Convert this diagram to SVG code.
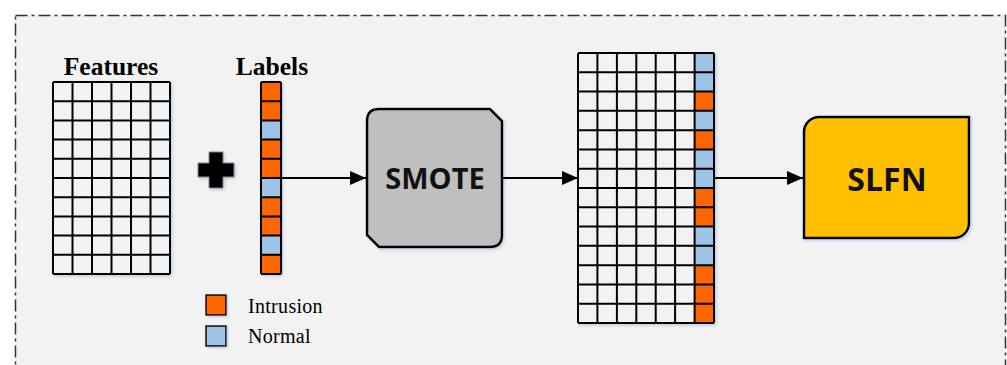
<svg xmlns="http://www.w3.org/2000/svg" width="1007" height="365" viewBox="0 0 1007 365">
  <style>
    .grid { fill: none; stroke: #000; stroke-width: 2; }
    .cell { fill: #f2f2f2; }
    .intr { fill: #ff6600; }
    .norm { fill: #9dc3e6; }
    .hdr { font-family: "Liberation Serif", serif; font-weight: bold; font-size: 25.5px; fill: #000; }
    .leg { font-family: "Liberation Serif", serif; font-size: 20px; fill: #000; letter-spacing: 0.3px; }
    .box-label { font-family: "Open Sans", "Liberation Sans", sans-serif; font-weight: bold; fill: #111; text-anchor: middle; }
    .conn { stroke: #000; stroke-width: 2; fill: none; marker-end: url(#arrow); }
  </style>
  <defs>
    <marker id="arrow" viewBox="0 0 16 14" refX="16" refY="7" markerWidth="16" markerHeight="14" markerUnits="userSpaceOnUse" orient="auto">
      <path d="M0 0 L16 7 L0 14 Z" fill="#000"/>
    </marker>
    <filter id="soft" x="-10%" y="-10%" width="125%" height="125%">
      <feDropShadow dx="1.5" dy="1.5" stdDeviation="1.5" flood-color="#9bb3d0" flood-opacity="0.6"/>
    </filter>
  </defs>

  <!-- panel -->
  <rect x="15.5" y="15.5" width="990" height="400" fill="#f2f2f2" stroke="#333" stroke-width="1.5" stroke-dasharray="12 4 3 4"/>

  <!-- feature matrix: 6 columns x 10 rows -->
  <g id="features">
    <text class="hdr" x="111" y="75" text-anchor="middle">Features</text>
    <g filter="url(#soft)">
      <rect class="cell" x="53" y="82" width="117" height="192"/>
      <path class="grid" d="M53 82 H170 M53 101.2 H170 M53 120.4 H170 M53 139.6 H170 M53 158.8 H170 M53 178 H170 M53 197.2 H170 M53 216.4 H170 M53 235.6 H170 M53 254.8 H170 M53 274 H170
        M53 82 V274 M72.5 82 V274 M92 82 V274 M111.5 82 V274 M131 82 V274 M150.5 82 V274 M170 82 V274"/>
    </g>
  </g>

  <!-- plus sign -->
  <g id="plus" filter="url(#soft)">
    <path d="M209 152 H223 V163 H234 V177 H223 V188 H209 V177 H198 V163 H209 Z" fill="#000" stroke="#888" stroke-width="1"/>
  </g>

  <!-- label column -->
  <g id="labels">
    <text class="hdr" x="272" y="75" text-anchor="middle">Labels</text>
    <g filter="url(#soft)">
      <rect class="intr" x="261" y="82" width="20" height="19.2"/>
      <rect class="intr" x="261" y="101.2" width="20" height="19.2"/>
      <rect class="norm" x="261" y="120.4" width="20" height="19.2"/>
      <rect class="intr" x="261" y="139.6" width="20" height="19.2"/>
      <rect class="intr" x="261" y="158.8" width="20" height="19.2"/>
      <rect class="norm" x="261" y="178" width="20" height="19.2"/>
      <rect class="intr" x="261" y="197.2" width="20" height="19.2"/>
      <rect class="intr" x="261" y="216.4" width="20" height="19.2"/>
      <rect class="norm" x="261" y="235.6" width="20" height="19.2"/>
      <rect class="intr" x="261" y="254.8" width="20" height="19.2"/>
      <path class="grid" d="M261 82 H281 M261 101.2 H281 M261 120.4 H281 M261 139.6 H281 M261 158.8 H281 M261 178 H281 M261 197.2 H281 M261 216.4 H281 M261 235.6 H281 M261 254.8 H281 M261 274 H281 M261 82 V274 M281 82 V274"/>
    </g>
  </g>

  <!-- legend -->
  <g id="legend">
    <rect class="intr" x="206" y="295" width="20" height="20" stroke="#000" stroke-width="1.5" filter="url(#soft)"/>
    <rect class="norm" x="206" y="326" width="20" height="20" stroke="#000" stroke-width="1.5" filter="url(#soft)"/>
    <text class="leg" x="248" y="313">Intrusion</text>
    <text class="leg" x="248" y="343">Normal</text>
  </g>

  <!-- SMOTE block -->
  <g id="smote">
    <path d="M379 109 H490 L502 121 V235 Q502 247 490 247 H379 L367 235 V121 Q367 109 379 109 Z" fill="#bfbfbf" stroke="#000" stroke-width="2.5" filter="url(#soft)"/>
    <text class="box-label" x="435" y="189" font-size="29">SMOTE</text>
  </g>

  <!-- balanced dataset: 6 feature columns + 1 label column, 14 rows -->
  <g id="balanced">
    <g filter="url(#soft)">
      <rect class="cell" x="578" y="53" width="136" height="270"/>
      <rect class="norm" x="694.6" y="53" width="19.4" height="19.29"/>
      <rect class="norm" x="694.6" y="72.29" width="19.4" height="19.29"/>
      <rect class="intr" x="694.6" y="91.57" width="19.4" height="19.29"/>
      <rect class="norm" x="694.6" y="110.86" width="19.4" height="19.29"/>
      <rect class="intr" x="694.6" y="130.14" width="19.4" height="19.29"/>
      <rect class="norm" x="694.6" y="149.43" width="19.4" height="19.29"/>
      <rect class="norm" x="694.6" y="168.71" width="19.4" height="19.29"/>
      <rect class="intr" x="694.6" y="188" width="19.4" height="19.29"/>
      <rect class="intr" x="694.6" y="207.29" width="19.4" height="19.29"/>
      <rect class="norm" x="694.6" y="226.57" width="19.4" height="19.29"/>
      <rect class="norm" x="694.6" y="245.86" width="19.4" height="19.29"/>
      <rect class="intr" x="694.6" y="265.14" width="19.4" height="19.29"/>
      <rect class="intr" x="694.6" y="284.43" width="19.4" height="19.29"/>
      <rect class="intr" x="694.6" y="303.71" width="19.4" height="19.29"/>
      <path class="grid" d="M578 53 H714 M578 72.29 H714 M578 91.57 H714 M578 110.86 H714 M578 130.14 H714 M578 149.43 H714 M578 168.71 H714 M578 188 H714 M578 207.29 H714 M578 226.57 H714 M578 245.86 H714 M578 265.14 H714 M578 284.43 H714 M578 303.71 H714 M578 323 H714
        M578 53 V323 M597.4 53 V323 M616.9 53 V323 M636.3 53 V323 M655.7 53 V323 M675.1 53 V323 M694.6 53 V323 M714 53 V323"/>
    </g>
  </g>

  <!-- SLFN block -->
  <g id="slfn">
    <path d="M819 117 H969 V223 A15 15 0 0 1 954 238 H804 V132 A15 15 0 0 1 819 117 Z" fill="#ffc000" stroke="#000" stroke-width="2.5" filter="url(#soft)"/>
    <text class="box-label" x="887" y="191" font-size="32">SLFN</text>
  </g>

  <!-- connectors -->
  <g id="connectors">
    <line class="conn" x1="281" y1="178" x2="366" y2="178"/>
    <line class="conn" x1="502" y1="178" x2="578" y2="178"/>
    <line class="conn" x1="714" y1="178" x2="803" y2="178"/>
  </g>
</svg>
